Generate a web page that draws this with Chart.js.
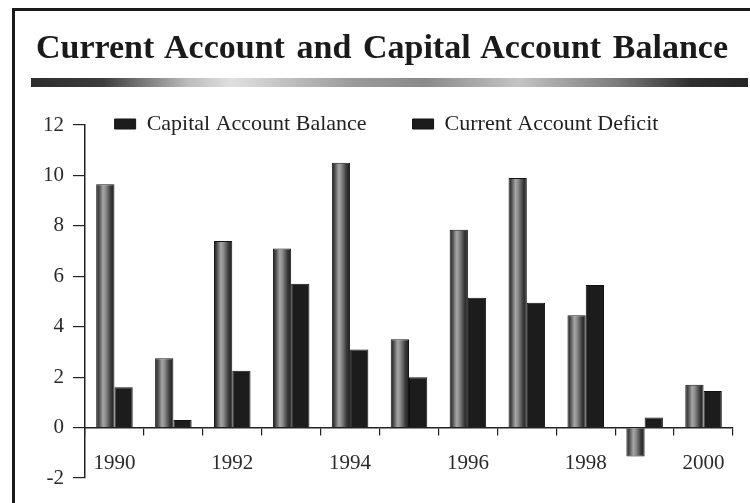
<!DOCTYPE html>
<html>
<head>
<meta charset="utf-8">
<script src="https://cdn.jsdelivr.net/npm/chart.js@4/dist/chart.umd.min.js"></script>
<style>
  body { margin: 0; background: #fff; }
  #wrap { position: relative; width: 750px; height: 503px; overflow: hidden; background: #fff; }
  #chart { position: absolute; left: 0; top: 0; }
  #frame { position: absolute; left: 12px; top: 8px; width: 760px; height: 520px;
           border-top: 3px solid #1a1a1a; border-left: 3px solid #1a1a1a; }
  #title { position: absolute; left: 36px; top: 27px; width: 692px; height: 40px;
           font: bold 34px/40px "Liberation Serif", serif; color: #1a1a1a;
           text-align: justify; text-align-last: justify; white-space: nowrap; }
  #rule { position: absolute; left: 31px; top: 78px; width: 717px; height: 9px;
          background: linear-gradient(to right, #2e2e2e 0%, #3c3c3c 10%, #bdbdbd 22%, #e0e0e0 28%,
                      #9a9a9a 45%, #8a8a8a 55%, #c4c4c4 68%, #7a7a7a 82%, #303030 92%, #262626 100%); }
</style>
</head>
<body>
<div id="wrap">
  <canvas id="chart" width="750" height="503"></canvas>
  <div id="frame"></div>
  <div id="title">Current Account and Capital Account Balance</div>
  <div id="rule"></div>
</div>
<script>
// values (percent)
var years = ['1990', '1991', '1992', '1993', '1994', '1995', '1996', '1997', '1998', '1999', '2000'];
var labeledYears = ['1990', '1992', '1994', '1996', '1998', '2000'];
var capitalBalance = [9.65, 2.75, 7.4, 7.1, 10.5, 3.5, 7.85, 9.9, 4.45, -1.15, 1.7];
var currentDeficit = [1.6, 0.3, 2.25, 5.7, 3.1, 2.0, 5.15, 4.95, 5.65, 0.4, 1.45];
var yMin = -2, yMax = 12, yStep = 2;

var CAT_PCT = 0.62;
var serif = '"Liberation Serif", serif';

// capital bars are shaded like a cylinder: dark edges, light stripe left of centre
function capitalFill(ctx) {
    var chart = ctx.chart;
    var xs = chart.scales.x;
    if (ctx.type !== 'data' || !xs || !xs.width) return '#6a6a6a';
    var w = xs.width / years.length;
    var c = xs.getPixelForValue(ctx.dataIndex);
    var left = c - w * CAT_PCT / 2;
    var g = chart.ctx.createLinearGradient(left, 0, c, 0);
    g.addColorStop(0, '#1c1c1c');
    g.addColorStop(0.15, '#4a4a4a');
    g.addColorStop(0.38, '#a6a6a6');
    g.addColorStop(0.52, '#8c8c8c');
    g.addColorStop(0.8, '#3a3a3a');
    g.addColorStop(1, '#1c1c1c');
    return g;
}

// the legend sits on the top tick, inside the plot
var legendShift = {
    id: 'legendShift',
    afterLayout: function (chart) {
        var lg = chart.legend;
        lg.top += 20;
        lg.bottom += 20;
        lg.left += 20;
        lg.right += 20;
    }
};

var config = {
    type: 'bar',
    data: {
        labels: years,
        datasets: [{
            label: 'Capital Account Balance',
            data: capitalBalance,
            backgroundColor: capitalFill,
            borderColor: '#151515',
            borderWidth: 1
        }, {
            label: 'Current Account Deficit',
            data: currentDeficit,
            backgroundColor: '#1c1c1c',
            borderColor: '#101010',
            borderWidth: 1
        }]
    },
    options: {
        responsive: false,
        animation: false,
        layout: {
            padding: { top: 47, left: 0, right: 17, bottom: 25 }
        },
        datasets: {
            bar: { categoryPercentage: CAT_PCT, barPercentage: 1.0 }
        },
        plugins: {
            title: { display: false },
            tooltip: { enabled: false },
            legend: {
                position: 'top',
                align: 'center',
                labels: {
                    color: '#222',
                    font: { family: serif, size: 22 },
                    boxWidth: 21,
                    boxHeight: 10,
                    padding: 46
                }
            }
        },
        scales: {
            x: {
                type: 'category',
                position: { y: 0 },
                offset: true,
                grid: {
                    offset: true,
                    drawOnChartArea: false,
                    drawTicks: true,
                    tickLength: 7,
                    color: '#222',
                    lineWidth: 1.2
                },
                border: { display: true, color: '#222', width: 1.5 },
                ticks: {
                    autoSkip: false,
                    maxRotation: 0,
                    padding: 16,
                    color: '#2a2a2a',
                    font: { family: serif, size: 21 },
                    callback: function (v, i) {
                        var y = years[i];
                        return labeledYears.indexOf(y) >= 0 ? y : '';
                    }
                }
            },
            y: {
                min: yMin,
                max: yMax,
                afterFit: function (s) { s.width = 85; },
                grid: {
                    drawOnChartArea: false,
                    drawTicks: true,
                    tickLength: 12,
                    color: '#222',
                    lineWidth: 1.2
                },
                border: { display: true, color: '#222', width: 1.5 },
                ticks: {
                    stepSize: yStep,
                    padding: 9,
                    color: '#2a2a2a',
                    font: { family: serif, size: 21 }
                }
            }
        }
    },
    plugins: [legendShift]
};

window.onload = function () {
    window.balanceChart = new Chart(document.getElementById('chart'), config);
};
</script>
</body>
</html>
